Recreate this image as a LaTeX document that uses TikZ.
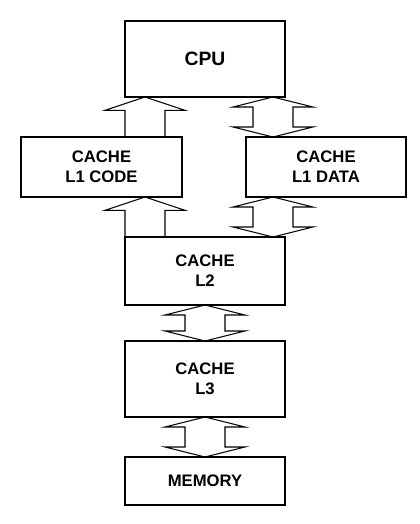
\documentclass[tikz,border=0pt]{standalone}
\usepackage{fontspec}
\setmainfont{Liberation Sans}
\usetikzlibrary{calc}

% block arrow with one head, from #1 (foot) to #2 (tip)
\newcommand{\oneway}[2]{%
  \draw let \p1=#1, \p2=#2 in (\p2) -- (\x2-30pt,\y2+10pt) -- (\x2-15pt,\y2+10pt) -- (\x2-15pt,\y1) -- (\x2+15pt,\y1) -- (\x2+15pt,\y2+10pt) -- (\x2+30pt,\y2+10pt) -- cycle ;}
% block arrow with two heads, between #1 (lower tip) and #2 (upper tip)
\newcommand{\twoway}[2]{%
  \draw let \p1=#1, \p2=#2 in (\p2) -- (\x2-30pt,\y2+7.5pt) -- (\x2-15pt,\y2+7.5pt) -- (\x2-15pt,\y1-7.5pt) -- (\x2-30pt,\y1-7.5pt) -- (\p1) -- (\x2+30pt,\y1-7.5pt) -- (\x2+15pt,\y1-7.5pt) -- (\x2+15pt,\y2+7.5pt) -- (\x2+30pt,\y2+7.5pt) -- cycle ;}

\tikzset{
  unit/.style={draw, line width=0.8pt, inner sep=0pt, outer sep=0pt, align=center,
    minimum width=120pt, font=\bfseries\fontsize{12.5}{15}\selectfont},
}

\begin{document}
\begin{tikzpicture}[x=0.75pt,y=0.75pt,yscale=-1,xscale=1,line width=0.8pt,line join=miter]
\useasboundingbox (0,0) rectangle (419,524);

% Boxes
\node [unit, minimum height=57pt, font=\bfseries\fontsize{14.5}{17}\selectfont] (cpu) at (205,59) {CPU};
\node [unit, minimum height=45pt, minimum width=120.75pt] (l1code) at (101.5,167) {CACHE\\L1 CODE};
\node [unit, minimum height=45pt] (l1data) at (326,167) {CACHE\\L1 DATA};
\node [unit, minimum height=51pt] (l2) at (205,271) {CACHE\\L2};
\node [unit, minimum height=57pt] (l3) at (205,379) {CACHE\\L3};
\node [unit, minimum height=36pt] (mem) at (205,481) {MEMORY};

% arrow columns
\coordinate (colcode) at (145,0);
\coordinate (coldata) at (273,0);

% Arrows
\oneway{(colcode |- l1code.north)}{(colcode |- cpu.south)}
\twoway{(coldata |- l1data.north)}{(coldata |- cpu.south)}
\oneway{(colcode |- l2.north)}{(colcode |- l1code.south)}
\twoway{(coldata |- l2.north)}{(coldata |- l1data.south)}
\twoway{(l3.north)}{(l2.south)}
\twoway{(mem.north)}{(l3.south)}

\end{tikzpicture}
\end{document}
